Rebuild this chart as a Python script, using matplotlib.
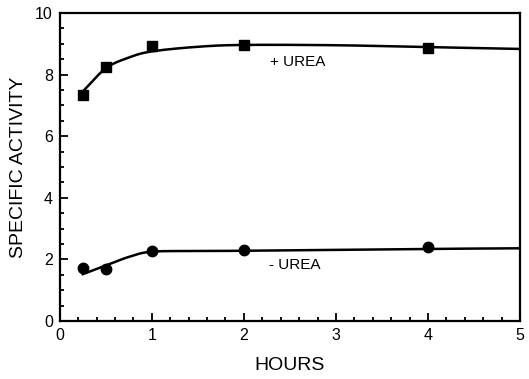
import numpy as np
import matplotlib.pyplot as plt
from matplotlib.ticker import MultipleLocator

plt.rcParams['font.family'] = ['Liberation Sans', 'DejaVu Sans']

# measured points
hours = [0.25, 0.5, 1, 2, 4]
with_urea = [7.35, 8.25, 8.92, 8.96, 8.86]
without_urea = [1.72, 1.69, 2.28, 2.3, 2.4]

curve_hours = [0.25, 0.5, 0.75, 1, 1.5, 2, 3, 4, 5]
with_urea_fit = [7.45, 8.2, 8.55, 8.75, 8.9, 8.96, 8.95, 8.89, 8.83]
without_urea_fit = [1.52, 1.8, 2.08, 2.25, 2.27, 2.28, 2.31, 2.34, 2.36]


def smooth(x, y, n=30):
    # catmull-rom through the read-off curve points
    x = np.asarray(x, float)
    y = np.asarray(y, float)
    px = np.concatenate([[2 * x[0] - x[1]], x, [2 * x[-1] - x[-2]]])
    py = np.concatenate([[2 * y[0] - y[1]], y, [2 * y[-1] - y[-2]]])
    xs, ys = [], []
    t = np.linspace(0, 1, n)
    for i in range(1, len(px) - 2):
        for p, out in ((px, xs), (py, ys)):
            p0, p1, p2, p3 = p[i - 1], p[i], p[i + 1], p[i + 2]
            out.extend(0.5 * (2 * p1 + (-p0 + p2) * t
                              + (2 * p0 - 5 * p1 + 4 * p2 - p3) * t ** 2
                              + (-p0 + 3 * p1 - 3 * p2 + p3) * t ** 3))
    return xs, ys


fig = plt.figure(figsize=(5.29, 3.79), dpi=100)
ax = fig.add_axes([0.113, 0.153, 0.870, 0.813])

cx, cy = smooth(curve_hours, with_urea_fit)
ax.plot(cx, cy, color='k', lw=1.8)
cx, cy = smooth(curve_hours, without_urea_fit)
ax.plot(cx, cy, color='k', lw=1.8)

ax.plot(hours, with_urea, 's', color='k', ms=7.5)
ax.plot(hours, without_urea, 'o', color='k', ms=7.5)

ax.text(2.58, 8.4, '+ UREA', ha='center', va='center', fontsize=11)
ax.text(2.55, 1.82, '- UREA', ha='center', va='center', fontsize=11)

ax.set_xlim(0, 5)
ax.set_ylim(0, 10)
ax.xaxis.set_major_locator(MultipleLocator(1))
ax.xaxis.set_minor_locator(MultipleLocator(0.2))
ax.yaxis.set_major_locator(MultipleLocator(2))
ax.yaxis.set_minor_locator(MultipleLocator(0.5))
ax.tick_params(which='both', direction='in', width=1.3, labelsize=11.5)
ax.tick_params(which='major', length=6, pad=5)
ax.tick_params(which='minor', length=3)
for s in ax.spines.values():
    s.set_linewidth(1.6)

ax.set_xlabel('HOURS', fontsize=14, labelpad=10)
ax.set_ylabel('SPECIFIC ACTIVITY', fontsize=14, labelpad=6)

fig.savefig('out.png', dpi=100)
